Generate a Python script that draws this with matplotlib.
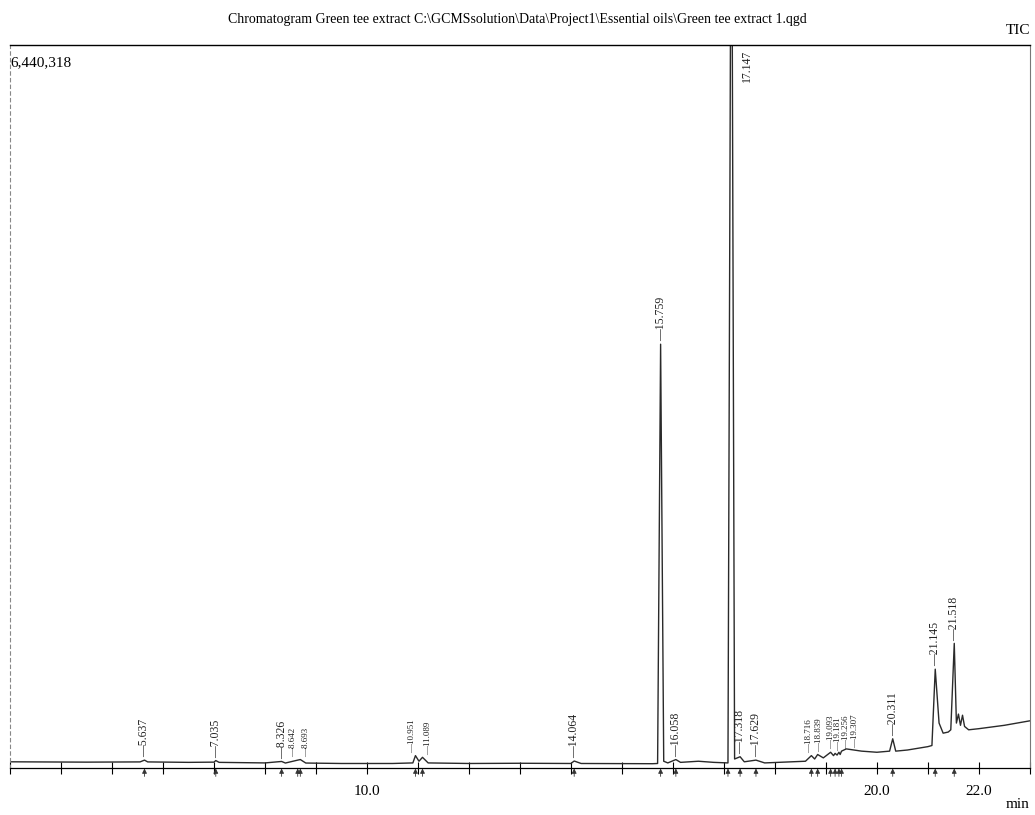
import matplotlib
matplotlib.use('Agg')
from matplotlib import pyplot as plt

# trace: retention time (min), intensity (counts)
rt = [3.0, 4.5, 5.55, 5.637, 5.7, 6.5, 7.0, 7.035, 7.1, 8.0, 8.326, 8.4,
      8.642, 8.693, 8.8, 9.5, 10.5, 10.9, 10.951, 11.02, 11.089, 11.2,
      12.0, 13.0, 14.0, 14.064, 14.2, 15.6, 15.70, 15.759, 15.82, 15.9,
      16.058, 16.15, 16.5, 16.8, 17.08, 17.147, 17.21, 17.318, 17.4,
      17.629, 17.8, 18.6, 18.716, 18.78, 18.839, 18.95, 19.093, 19.15,
      19.181, 19.22, 19.256, 19.28, 19.307, 19.4, 19.7, 20.0, 20.25,
      20.311, 20.37, 20.6, 21.0, 21.08, 21.145, 21.22, 21.3, 21.4, 21.45,
      21.518, 21.56, 21.6, 21.64, 21.68, 21.72, 21.8, 22.0, 22.5, 23.0]
intensity = [55e3, 52e3, 54e3, 70e3, 54e3, 50e3, 52e3, 66e3, 50e3, 45e3,
             58e3, 44e3, 70e3, 75e3, 44e3, 40e3, 40e3, 45e3, 110e3, 60e3,
             95e3, 45e3, 40e3, 42e3, 40e3, 62e3, 40e3, 38e3, 40e3, 3775e3,
             60e3, 45e3, 75e3, 50e3, 60e3, 50e3, 45e3, 9000e3, 80e3, 100e3,
             55e3, 70e3, 45e3, 60e3, 110e3, 80e3, 120e3, 90e3, 140e3, 110e3,
             130e3, 115e3, 140e3, 120e3, 150e3, 170e3, 150e3, 140e3, 150e3,
             260e3, 150e3, 160e3, 190e3, 200e3, 880e3, 400e3, 310e3, 320e3,
             340e3, 1110e3, 400e3, 480e3, 380e3, 470e3, 370e3, 340e3, 350e3,
             380e3, 420e3]

# labelled peaks
peak_labels = ['5.637', '7.035', '8.326', '8.642', '8.693', '10.951', '11.089',
               '14.064', '15.759', '16.058', '17.318', '17.629', '18.716',
               '18.839', '19.093', '19.181', '19.256', '19.307', '20.311',
               '21.145', '21.518']
peak_rt = [5.637, 7.035, 8.326, 8.642, 8.693, 10.951, 11.089, 14.064, 15.759,
           16.058, 17.318, 17.629, 18.716, 18.839, 19.093, 19.181, 19.256,
           19.307, 20.311, 21.145, 21.518]
label_base = [70e3, 66e3, 58e3, 70e3, 75e3, 110e3, 95e3, 62e3, 3775e3, 75e3,
              100e3, 70e3, 110e3, 120e3, 140e3, 130e3, 140e3, 150e3, 260e3,
              880e3, 1110e3]
y_max = 6440318

title = ('Chromatogram Green tee extract '
         'C:\\GCMSsolution\\Data\\Project1\\Essential oils\\Green tee extract 1.qgd')

# crowded labels get nudged sideways and set smaller
nudge = {'8.642': -0.09, '8.693': 0.12, '10.951': -0.06, '11.089': 0.10,
         '18.716': -0.05, '18.839': 0.02, '19.093': 0.0, '19.181': 0.05,
         '19.256': 0.14, '19.307': 0.27}
small = {'8.642', '8.693', '10.951', '11.089', '18.716', '18.839', '19.093',
         '19.181', '19.256', '19.307'}

serif = 'Liberation Serif'
fig = plt.figure(figsize=(10.35, 8.15), dpi=100)
ax = fig.add_axes([0.0097, 0.0577, 0.9853, 0.8871])

ax.plot(rt, intensity, color='#2a2a2a', linewidth=1.0)
ax.set_xlim(3.0, 23.0)
ax.set_ylim(0, y_max)

for lab, t, b in zip(peak_labels, peak_rt, label_base):
    fs = 6.5 if lab in small else 8.5
    ax.text(t + nudge.get(lab, 0.0), b + 25e3, '\u2014' + lab, rotation=90,
            ha='center', va='bottom', fontsize=fs, family=serif,
            color='#222222')
    ax.annotate('', xy=(t, 20e3), xytext=(t, -100e3),
                arrowprops=dict(arrowstyle='-|>', lw=0.6, color='#333333',
                                mutation_scale=7),
                annotation_clip=False)

# off-scale main peak, label sits at the top
ax.text(17.147 + 0.3, y_max - 40e3, '17.147', rotation=90, ha='center',
        va='top', fontsize=8.5, family=serif, color='#222222')
ax.annotate('', xy=(17.08, 20e3), xytext=(17.08, -100e3),
            arrowprops=dict(arrowstyle='-|>', lw=0.6, color='#333333',
                            mutation_scale=7),
            annotation_clip=False)

ax.set_xticks([10, 20, 22])
ax.set_xticklabels(['10.0', '20.0', '22.0'], family=serif, fontsize=11)
ax.set_xticks(range(3, 24), minor=True)
ax.tick_params(axis='x', which='both', direction='inout', length=8,
               width=0.8, pad=8)
ax.set_yticks([])

ax.spines['left'].set_linestyle((0, (3, 3)))
ax.spines['left'].set_color('#888888')
ax.spines['right'].set_color('#777777')
ax.spines['right'].set_linewidth(0.8)
ax.spines['top'].set_linewidth(1.0)
ax.spines['bottom'].set_linewidth(0.9)

ax.text(0.0, 0.985, '6,440,318', transform=ax.transAxes, ha='left', va='top',
        fontsize=11, family=serif)
fig.text(0.5, 0.984, title, ha='center', va='top', fontsize=10, family=serif)
fig.text(0.995, 0.955, 'TIC', ha='right', va='bottom', fontsize=11,
         family=serif)
fig.text(0.995, 0.005, 'min', ha='right', va='bottom', fontsize=11,
         family=serif)

plt.savefig('out.png', dpi=100)
plt.close()
